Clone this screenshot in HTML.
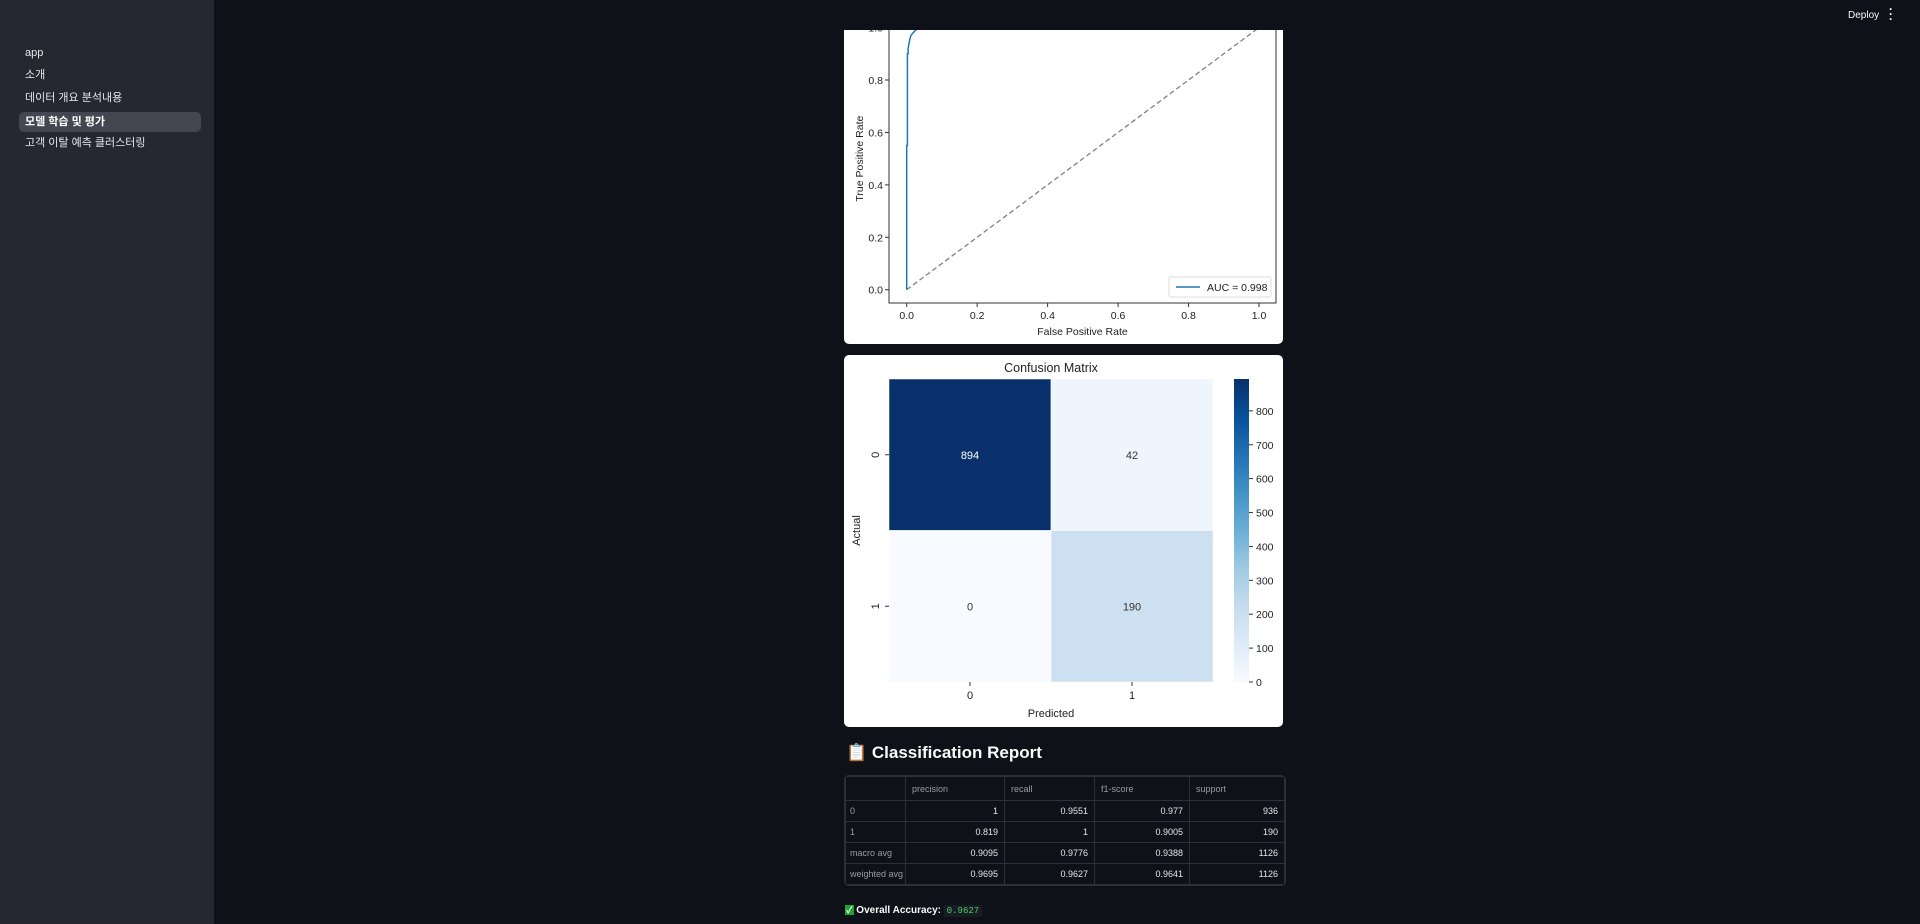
<!DOCTYPE html>
<html><head><meta charset="utf-8">
<style>
*{box-sizing:border-box;margin:0;padding:0}
body{width:1920px;height:924px;background:#0e1117;font-family:"Liberation Sans","Noto Sans CJK KR",sans-serif;overflow:hidden;position:relative;color:#fafafa}
#sidebar{position:absolute;left:0;top:0;width:214px;height:924px;background:#262730}
.nav{position:absolute;left:19px;width:182px;height:22px;font-size:11px;line-height:22px;padding-left:6px;color:#e6e6eb;border-radius:5px}
.nav.sel{background:#454652;font-weight:bold;color:#fff}
.card{position:absolute;left:844px;width:439px;background:#fff;border-radius:5px}
#hdr{position:absolute;left:214px;top:0;width:1706px;height:30px;background:#0e1117}
table{border-collapse:collapse;width:439px;font-size:9px;table-layout:fixed}
td,th{border:1px solid #2d3039;height:21px;padding:0 6px;color:#e6e6e6;font-weight:normal;white-space:nowrap;overflow:hidden}
th{color:#9a9ca4;text-align:left;height:24px}
td{text-align:right}
td.l{text-align:left;color:#9a9ca4;padding-left:4px}
</style></head><body>
<div id="sidebar">
<div class="nav" style="top:42px">app</div>
<div class="nav" style="top:64px">소개</div>
<div class="nav" style="top:87px">데이터 개요 분석내용</div>
<div class="nav sel" style="top:112px;height:20px;line-height:20px">모델 학습 및 평가</div>
<div class="nav" style="top:132px">고객 이탈 예측 클러스터링</div>
</div>

<div class="card" style="top:20px;height:324px">
<svg id="roc" width="439" height="324"></svg>
</div>
<div id="hdr">
<div style="position:absolute;left:1634px;top:10px;font-size:10px;color:#fafafa">Deploy</div>
<div style="position:absolute;left:1675px;top:7px;font-size:12px;font-weight:bold;color:#fafafa;line-height:5px">·<br>·<br>·</div>
</div>

<div class="card" style="top:355px;height:372px">
<svg id="cm" width="439" height="372"></svg>
</div>

<div style="position:absolute;left:846px;top:743px;font-size:17px;font-weight:bold;color:#fafafa">📋 Classification Report</div>
<div style="position:absolute;left:844px;top:775px;border:1px solid #2d3039;border-radius:5px;overflow:hidden">
<table>
<colgroup><col style="width:60px"><col style="width:99px"><col style="width:90px"><col style="width:95px"><col style="width:95px"></colgroup>
<tr><th></th><th>precision</th><th>recall</th><th>f1-score</th><th>support</th></tr>
<tr><td class="l">0</td><td>1</td><td>0.9551</td><td>0.977</td><td>936</td></tr>
<tr><td class="l">1</td><td>0.819</td><td>1</td><td>0.9005</td><td>190</td></tr>
<tr><td class="l">macro avg</td><td>0.9095</td><td>0.9776</td><td>0.9388</td><td>1126</td></tr>
<tr><td class="l">weighted avg</td><td>0.9695</td><td>0.9627</td><td>0.9641</td><td>1126</td></tr>
</table></div>
<div style="position:absolute;left:845px;top:903px;font-size:10px;font-weight:bold"><span style="background:#21a336;color:#fff;padding:0 1px;font-size:9px">✓</span> Overall Accuracy: <span style="font-family:'Liberation Mono',monospace;font-weight:normal;color:#3dd56d;background:#1a1c24;padding:1px 3px;font-size:9px">0.9627</span></div>

<script>
const NS='http://www.w3.org/2000/svg';
function mk(p,t,a,txt){const e=document.createElementNS(NS,t);for(const k in a)e.setAttribute(k,a[k]);if(txt!==undefined)e.textContent=txt;p.appendChild(e);return e;}
// ROC data
const rocFpr=[0,0,0.002,0.002,0.004,0.004,0.008,0.012,0.018,0.025,0.04,0.06,0.1,0.3,0.6,1.0];
const rocTpr=[0,0.55,0.55,0.9,0.9,0.92,0.95,0.97,0.98,0.99,1.0,1.0,1.0,1.0,1.0,1.0];
const rocTicks=[0,0.2,0.4,0.6,0.8,1.0];
const aucLabel='AUC = 0.998';
// confusion data
const cmLabels=['0','1'];
const cmValues=[[894,42],[0,190]];
const cbTicks=[0,100,200,300,400,500,600,700,800];

(function(){
const s=document.getElementById('roc');
const L=45,R=432,B=283;
const x=v=>62.7+v*(415-62.7);
const y=v=>269.7-v*(269.7-60)/0.8;
const dg=mk(s,'line',{x1:x(0),y1:y(0),x2:x(1),y2:y(1),stroke:'#808080','stroke-width':1.3,'stroke-dasharray':'5,3'});

let d='';rocFpr.forEach((f,i)=>{d+=(i?'L':'M')+x(f)+','+y(rocTpr[i]);});
const c=mk(s,'path',{d:d,fill:'none',stroke:'#1f77b4','stroke-width':1.5});


mk(s,'polyline',{points:`${L},0 ${L},${B} ${R},${B} ${R},0`,fill:'none',stroke:'#333','stroke-width':1});
rocTicks.forEach(t=>{
 mk(s,'line',{x1:x(t),y1:B,x2:x(t),y2:B+4,stroke:'#333'});
 const tx=mk(s,'text',{x:x(t),y:B+16,'font-size':10.5,'text-anchor':'middle',fill:'#222'},t.toFixed(1));
 
 mk(s,'line',{x1:L-4,y1:y(t),x2:L,y2:y(t),stroke:'#333'});
 const ty=mk(s,'text',{x:L-6,y:y(t)+4,'font-size':10.5,'text-anchor':'end',fill:'#222'},t.toFixed(1));
 
});
const xl=mk(s,'text',{x:(L+R)/2,y:315,'font-size':10.5,'text-anchor':'middle',fill:'#222'},'False Positive Rate');

const yl=mk(s,'text',{x:0,y:0,'font-size':10.5,'text-anchor':'middle',fill:'#222',transform:`translate(19,${y(0.5)}) rotate(-90)`},'True Positive Rate');

const lg=mk(s,'g',{});

mk(lg,'rect',{x:325,y:257,width:102,height:20,rx:2,fill:'#fff',stroke:'#ddd'});
mk(lg,'line',{x1:332,y1:267,x2:356,y2:267,stroke:'#1f77b4','stroke-width':1.5});
mk(lg,'text',{x:363,y:271,'font-size':10.5,fill:'#222'},aucLabel);
})();

(function(){
const s=document.getElementById('cm');
const stops=[[247,251,255],[222,235,247],[198,219,239],[158,202,225],[107,174,214],[66,146,198],[33,113,181],[8,81,156],[8,48,107]];
const vmax=894;
function blue(v){const t=Math.max(0,Math.min(1,v/vmax))*(stops.length-1);const i=Math.min(Math.floor(t),stops.length-2);const f=t-i;const a=stops[i],b=stops[i+1];return `rgb(${a.map((c,k)=>Math.round(c+(b[k]-c)*f)).join(',')})`;}
const X0=45,X1=369,Y0=24,Y1=327;const cw=(X1-X0)/2,ch=(Y1-Y0)/2;
cmValues.forEach((row,r)=>row.forEach((v,c)=>{
 const rc=mk(s,'rect',{x:X0+c*cw,y:Y0+r*ch,width:cw,height:ch,fill:blue(v),stroke:'#fff','stroke-width':0.5});
 
 
 const t=mk(s,'text',{x:X0+c*cw+cw/2,y:Y0+r*ch+ch/2+4,'font-size':11,'text-anchor':'middle',fill:v>vmax/2?'#fff':'#333'},v);
 
}));
cmLabels.forEach((l,i)=>{
 mk(s,'line',{x1:X0+i*cw+cw/2,y1:Y1,x2:X0+i*cw+cw/2,y2:Y1+4,stroke:'#333'});
 const a=mk(s,'text',{x:X0+i*cw+cw/2,y:Y1+17,'font-size':11,'text-anchor':'middle',fill:'#222'},l);
 
 mk(s,'line',{x1:X0-4,y1:Y0+i*ch+ch/2,x2:X0,y2:Y0+i*ch+ch/2,stroke:'#333'});
 const b=mk(s,'text',{x:0,y:0,'font-size':11,'text-anchor':'middle',fill:'#222',transform:`translate(${X0-10},${Y0+i*ch+ch/2}) rotate(-90)`},l);
 
});
const tt=mk(s,'text',{x:(X0+X1)/2,y:17,'font-size':12.5,'text-anchor':'middle',fill:'#222'},'Confusion Matrix');

const xt=mk(s,'text',{x:(X0+X1)/2,y:362,'font-size':11,'text-anchor':'middle',fill:'#222'},'Predicted');

const yt=mk(s,'text',{x:0,y:0,'font-size':11,'text-anchor':'middle',fill:'#222',transform:`translate(16,${(Y0+Y1)/2}) rotate(-90)`},'Actual');

const CX=390,CW=15;
const g=mk(s,'defs',{});const lgd=mk(g,'linearGradient',{id:'cbg',x1:0,y1:1,x2:0,y2:0});
stops.forEach((c,i)=>mk(lgd,'stop',{offset:i/(stops.length-1),'stop-color':`rgb(${c.join(',')})`}));
const cb=mk(s,'rect',{x:CX,y:Y0,width:CW,height:Y1-Y0,fill:'url(#cbg)'});

const cy=v=>Y1-v/vmax*(Y1-Y0);
cbTicks.forEach(t=>{
 mk(s,'line',{x1:CX+CW,y1:cy(t),x2:CX+CW+4,y2:cy(t),stroke:'#333'});
 const l=mk(s,'text',{x:CX+CW+7,y:cy(t)+4,'font-size':10.5,fill:'#222'},t);
 
});
})();
</script>
</body></html>
